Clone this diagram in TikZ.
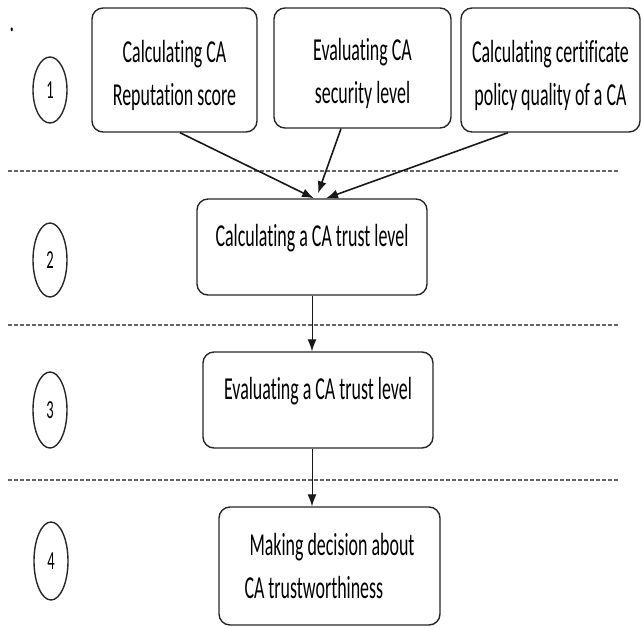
\documentclass[tikz,border=0pt]{standalone}
\usepackage{fontspec}
\setmainfont{Carlito}[FakeStretch=0.56, Ligatures=NoCommon]
\usetikzlibrary{arrows.meta,shapes.geometric}

\begin{document}
\begin{tikzpicture}[x=1pt, y=-1pt,
		stage/.style={draw=black!85, line width=1.4pt, rounded corners=11pt, align=center, font=\fontsize{32}{43}\selectfont},
		oneline/.style={text height=24pt, text depth=26pt},
		num/.style={draw=black!85, line width=1.4pt, ellipse, inner sep=0pt, minimum width=34pt, font=\fontsize{26}{26}\selectfont},
		sep/.style={draw=black!60, line width=2pt, dash pattern=on 4pt off 2pt},
		feed/.style={draw=black!90, line width=1.6pt, -{Latex[length=12pt,width=9pt]}},
		flow/.style={draw=black!90, line width=1pt, -{Latex[length=12pt,width=9pt]}}]
			%%%%% START %%%%%
			\useasboundingbox (0,0) rectangle (642,627);
			
			\node[anchor=base, font=\fontsize{32}{32}\selectfont] (dot) at (12,31) {.};
			
			\node[stage, minimum width=165pt, minimum height=124pt] (rep) at (174.5,70) {\rule{0pt}{34pt}Calculating CA\\Reputation score};
			\node[stage, minimum width=177pt, minimum height=120pt] (sec) at (362.5,68) {\rule{0pt}{34pt}Evaluating CA\\security level};
			\node[stage, minimum width=179pt, minimum height=124pt] (pol) at (550.5,70) {\rule{0pt}{34pt}Calculating certificate\\policy quality of a CA};
			
			\node[stage, oneline, minimum width=230pt, minimum height=96pt] (calc) at (312,247) {Calculating a CA trust level};
			\node[stage, oneline, minimum width=230pt, minimum height=96pt] (eval) at (318,400) {Evaluating a CA trust level};
			\node[stage, align=left, minimum width=221pt, minimum height=118pt] (dec) at (329.5,566) {\hspace*{5pt}Making decision about\\CA trustworthiness};
			
			\node[num, minimum height=66pt] (n1) at (50,90) {1};
			\node[num, minimum height=74pt] (n2) at (50,260) {2};
			\node[num, minimum height=76pt] (n3) at (50,410) {3};
			\node[num, minimum height=78pt] (n4) at (51,561) {4};
			
			\draw[sep] (8,171) -- (618,171);
			\draw[sep] (8,325) -- (618,325);
			\draw[sep] (8,480) -- (618,480);
			
			\draw[feed] ([xshift=5.5pt]rep.south) -- ([xshift=2pt]calc.north);
			\draw[feed] ([xshift=-21.5pt]sec.south) -- ([xshift=6pt,yshift=5pt]calc.north);
			\draw[feed] ([xshift=-42.5pt]pol.south) -- ([xshift=14pt]calc.north);
			
			\draw[flow] (calc.south) -- (calc.south |- eval.north);
			\draw[flow] ([xshift=-6pt]eval.south) -- ([xshift=-6pt]eval.south |- dec.north);
			
			%%%%% END %%%%%
\end{tikzpicture}
\end{document}
